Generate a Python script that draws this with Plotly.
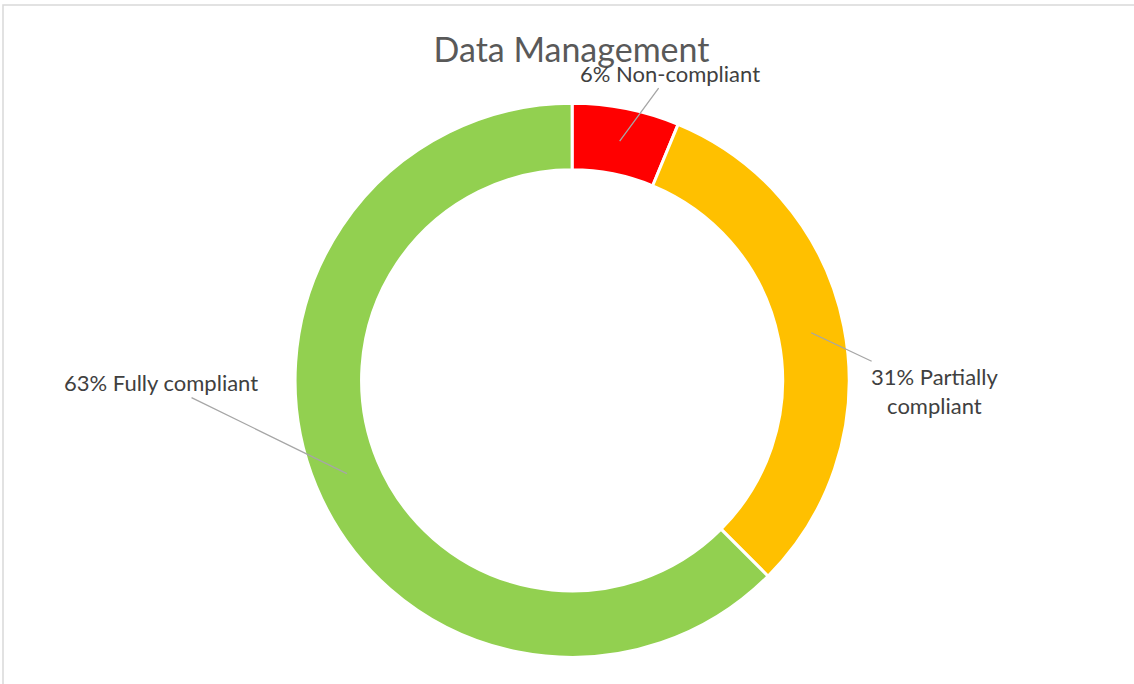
import math
import plotly.graph_objects as go

# chart data
categories = ['Non-compliant', 'Partially compliant', 'Fully compliant']
counts = [1, 5, 10]
colors = ['#FF0000', '#FFC000', '#92D050']
label_text = ['6% Non-compliant', '31% Partially<br>compliant', '63% Fully compliant']

W, H = 1134, 684
dom_x = [0.26, 0.749]
dom_y = [0.039, 0.849]
hole = 0.76

# label offsets (px) from the leader tip
label_offsets = [(50, -68), (123, 58), (-186, -91)]

fig = go.Figure()

fig.add_trace(go.Pie(
    labels=categories,
    values=counts,
    sort=False,
    direction='clockwise',
    rotation=0,
    hole=hole,
    marker=dict(colors=colors, line=dict(color='#FFFFFF', width=3)),
    textinfo='none',
    showlegend=False,
    domain=dict(x=dom_x, y=dom_y),
    hovertemplate='%{label}: %{percent}<extra></extra>'
))

# leader line tips at the middle of each ring segment
cx = (dom_x[0] + dom_x[1]) / 2 * W
cy = (1 - (dom_y[0] + dom_y[1]) / 2) * H
r_out = min((dom_x[1] - dom_x[0]) * W, (dom_y[1] - dom_y[0]) * H) / 2
r_mid = r_out * (1 + hole) / 2
total = sum(counts)
cum = 0
for i, v in enumerate(counts):
    mid = (cum + v / 2) / total * 2 * math.pi
    cum += v
    px = cx + r_mid * math.sin(mid)
    py = cy - r_mid * math.cos(mid)
    fig.add_annotation(
        x=px / W, y=1 - py / H,
        xref='paper', yref='paper',
        text=label_text[i],
        showarrow=True,
        arrowhead=0,
        arrowwidth=1.3,
        arrowcolor='#A6A6A6',
        ax=label_offsets[i][0], ay=label_offsets[i][1],
        font=dict(family='Lato', size=22, color='#404040'),
        align='center'
    )

# chart area border
fig.add_shape(
    type='rect', xref='paper', yref='paper',
    x0=3 / W, x1=1.02, y0=-0.02, y1=1 - 5 / H,
    line=dict(color='#D9D9D9', width=1.5), fillcolor='rgba(0,0,0,0)'
)

fig.update_layout(
    title=dict(
        text='Data Management',
        x=0.504, xanchor='center',
        y=1 - 50 / H, yanchor='middle',
        font=dict(family='Lato', size=34, color='#595959')
    ),
    width=W, height=H,
    paper_bgcolor='#FFFFFF',
    plot_bgcolor='#FFFFFF',
    margin=dict(t=0, l=0, r=0, b=0)
)

fig.write_html("out.html", config={'displayModeBar': False},
               post_script="document.body.style.margin='0';")
